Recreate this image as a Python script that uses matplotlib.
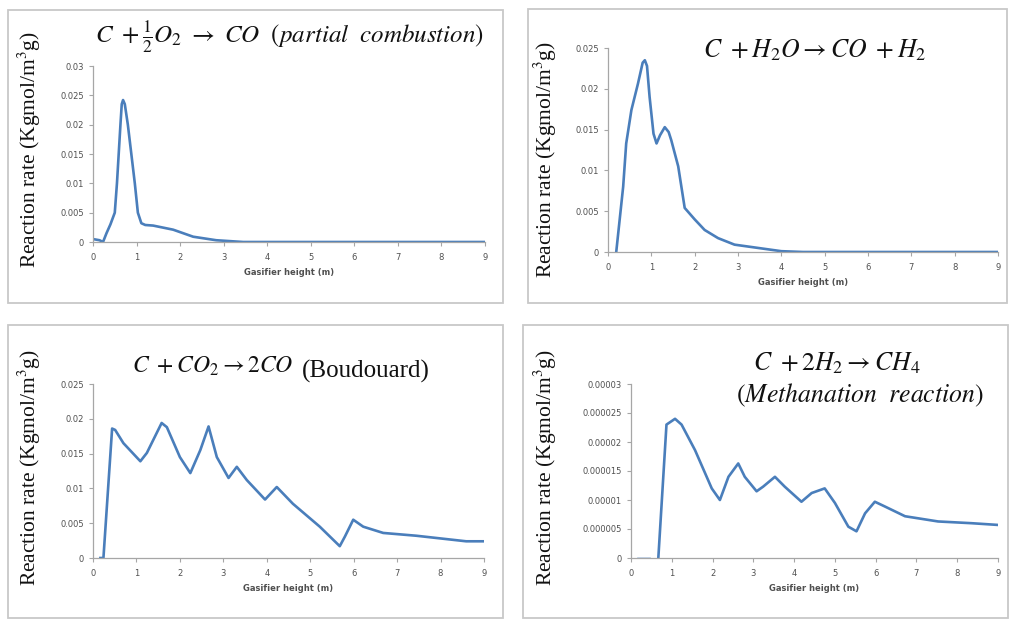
import matplotlib
matplotlib.use("Agg")
import matplotlib.pyplot as plt
from matplotlib.patches import Rectangle

plt.rcParams['mathtext.fontset'] = 'stix'

# data (x = gasifier height in m)
x1 = [0, 0.15, 0.23, 0.31, 0.4, 0.5, 0.55, 0.59, 0.63, 0.66, 0.69, 0.73, 0.8, 0.88, 0.96, 1.03, 1.11, 1.2, 1.38, 1.84, 2.3, 2.83, 3.45, 4, 5, 6, 7, 8, 9]
y1 = [0.0005, 0.0003, 0.0, 0.0015, 0.003, 0.005, 0.01, 0.015, 0.02, 0.0235, 0.0242, 0.0235, 0.02, 0.015, 0.01, 0.005, 0.0032, 0.0029, 0.0028, 0.0021, 0.0009, 0.0003, 0.0, 0, 0, 0, 0, 0, 0]

x2 = [0.19, 0.35, 0.42, 0.54, 0.69, 0.8, 0.85, 0.9, 0.96, 1.05, 1.12, 1.2, 1.31, 1.4, 1.46, 1.62, 1.77, 2.0, 2.23, 2.54, 2.92, 3.46, 4.0, 4.5, 5, 6, 7, 8, 9]
y2 = [0.0, 0.008, 0.0133, 0.0174, 0.0206, 0.0232, 0.0235, 0.0228, 0.019, 0.0145, 0.0133, 0.0143, 0.0153, 0.0147, 0.0137, 0.0105, 0.0054, 0.004, 0.0027, 0.0017, 0.0009, 0.0005, 0.0001, 0.0, 0, 0, 0, 0, 0]

x3 = [0.17, 0.24, 0.44, 0.51, 0.7, 1.09, 1.24, 1.58, 1.7, 2.0, 2.24, 2.47, 2.66, 2.85, 3.12, 3.31, 3.54, 3.96, 4.23, 4.6, 5.22, 5.68, 5.8, 5.99, 6.22, 6.68, 7.44, 8.59, 9.0]
y3 = [0.0, 0.0, 0.0186, 0.0184, 0.0165, 0.0139, 0.0151, 0.0194, 0.0188, 0.0145, 0.0122, 0.0155, 0.0189, 0.0145, 0.0115, 0.0131, 0.0112, 0.0084, 0.0102, 0.0078, 0.0045, 0.0017, 0.0031, 0.0055, 0.0045, 0.0036, 0.0032, 0.0024, 0.0024]

x4_flat = [0.18, 0.45]
y4_flat = [0.0, 0.0]
x4 = [0.67, 0.87, 1.08, 1.24, 1.57, 1.98, 2.18, 2.39, 2.63, 2.79, 3.08, 3.24, 3.53, 3.77, 4.18, 4.43, 4.75, 5.0, 5.33, 5.53, 5.74, 5.98, 6.22, 6.72, 7.53, 8.35, 9.0]
y4 = [0.0, 2.3e-05, 2.4e-05, 2.3e-05, 1.86e-05, 1.2e-05, 1.0e-05, 1.4e-05, 1.63e-05, 1.4e-05, 1.15e-05, 1.23e-05, 1.4e-05, 1.23e-05, 9.7e-06, 1.12e-05, 1.2e-05, 9.5e-06, 5.4e-06, 4.6e-06, 7.7e-06, 9.7e-06, 8.9e-06, 7.2e-06, 6.3e-06, 6.0e-06, 5.7e-06]

xticks = [0, 1, 2, 3, 4, 5, 6, 7, 8, 9]
yt1 = [0, 0.005, 0.01, 0.015, 0.02, 0.025, 0.03]
yl1 = ['0', '0.005', '0.01', '0.015', '0.02', '0.025', '0.03']
yt2 = [0, 0.005, 0.01, 0.015, 0.02, 0.025]
yl2 = ['0', '0.005', '0.01', '0.015', '0.02', '0.025']
yt4 = [0, 0.000005, 0.00001, 0.000015, 0.00002, 0.000025, 0.00003]
yl4 = ['0', '0.000005', '0.00001', '0.000015', '0.00002', '0.000025', '0.00003']

W, H = 1009, 619
fig = plt.figure(figsize=(W / 100, H / 100), dpi=100)

def px_box(l, t, r, b):
    return [l / W, 1 - b / H, (r - l) / W, (b - t) / H]

def frame(l, t, r, b):
    fig.patches.append(Rectangle((l / W, 1 - b / H), (r - l) / W, (b - t) / H,
                                 transform=fig.transFigure, fill=False,
                                 edgecolor='#c8c8c8', linewidth=1.3))

line_col = '#4a7ebb'
spine_col = '#a6a6a6'

def panel(box, x, y, yt, yl, ylab_xy):
    ax = fig.add_axes(px_box(*box))
    ax.plot(x, y, color=line_col, lw=1.9, solid_joinstyle='round')
    ax.set_xlim(0, 9)
    ax.set_ylim(yt[0], yt[-1])
    ax.set_xticks(xticks)
    ax.set_yticks(yt)
    ax.set_yticklabels(yl)
    for s in ['top', 'right']:
        ax.spines[s].set_visible(False)
    for s in ['left', 'bottom']:
        ax.spines[s].set_color(spine_col)
        ax.spines[s].set_linewidth(0.9)
    ax.tick_params(axis='both', colors=spine_col, labelcolor='#505050',
                   labelsize=6, length=3, width=0.8, direction='out')
    ax.tick_params(axis='x', pad=5)
    ax.set_xlabel('Gasifier height (m)', fontsize=6, fontweight='bold',
                  color='#505050', labelpad=4)
    fig.text(ylab_xy[0] / W, 1 - ylab_xy[1] / H,
             'Reaction rate (Kgmol/m$^3$g)', rotation=90, ha='center',
             va='center', fontsize=15.5, family='Liberation Serif',
             color='#111111')
    return ax

frame(8, 10, 503, 303)
frame(528, 9, 1007, 303)
frame(8, 325, 503, 618)
frame(523, 325, 1008, 618)

panel((93, 66, 485, 242), x1, y1, yt1, yl1, (29, 150))
panel((608, 48, 998, 252), x2, y2, yt2, yl2, (545, 160))
panel((93, 384, 484, 558), x3, y3, yt2, yl2, (29, 468))
ax4 = panel((631, 384, 998, 558), x4, y4, yt4, yl4, (545, 468))
ax4.plot(x4_flat, y4_flat, color='#b9cde6', lw=1.9)

tcol = '#111111'
fig.text(289 / W, 1 - 37 / H,
         r'$C\ +\frac{1}{2}O_2\ \rightarrow\ CO\ \ (partial\ \ combustion)$',
         ha='center', va='center', fontsize=18, color=tcol)
fig.text(815 / W, 1 - 50 / H, r'$C\ + H_2O \rightarrow CO\ + H_2$',
         ha='center', va='center', fontsize=18.5, color=tcol)
fig.text(213 / W, 1 - 366 / H, r'$C\ + CO_2 \rightarrow 2CO$',
         ha='center', va='center', fontsize=17, color=tcol)
fig.text(302 / W, 1 - 371 / H, '(Boudouard)', ha='left', va='center',
         fontsize=18, family='Liberation Serif', color=tcol)
fig.text(837 / W, 1 - 363 / H, r'$C\ + 2H_2 \rightarrow CH_4$',
         ha='center', va='center', fontsize=18.5, color=tcol)
fig.text(860 / W, 1 - 395 / H, r'$(Methanation\ \ reaction)$',
         ha='center', va='center', fontsize=18.5, color=tcol)

fig.savefig('out.png', dpi=100)
